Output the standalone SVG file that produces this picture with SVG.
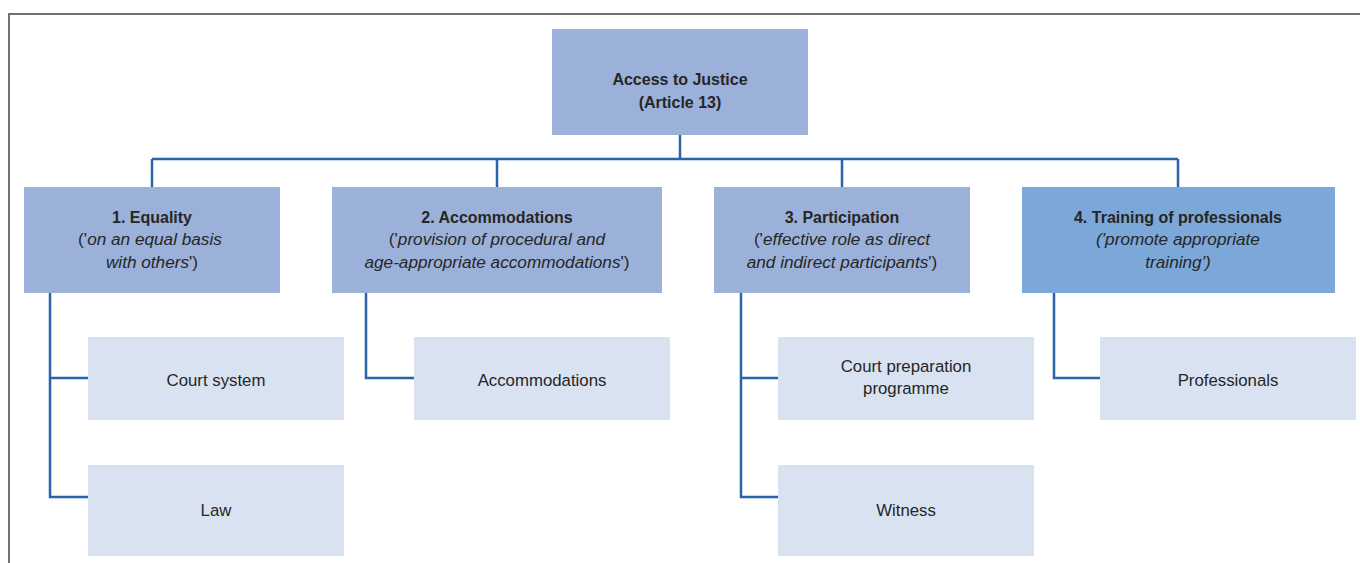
<svg xmlns="http://www.w3.org/2000/svg" width="1360" height="563" viewBox="0 0 1360 563">
<style>
.frame{fill:none;stroke:#707070;stroke-width:2}
.root,.l1{fill:#9bb1da}
.l1b{fill:#7ba7d9}
.l2{fill:#d9e2f1}
.con{fill:none;stroke:#2b63a9;stroke-width:2.5}
text{font-family:"Liberation Sans",Arial,sans-serif;fill:#262626;text-anchor:middle}
.b{font-weight:bold;font-size:16px}
.i{font-size:17.2px}
.i tspan.it{font-style:italic}
.r{font-size:16.8px}
</style>
<rect width="1360" height="563" fill="#fff"/>
<path class="frame" d="M9 563 V14 H1360"/>
<g id="connectors">
<path class="con" d="M680 134 V159 M152 159 H1178 M152 159 V187 M497 159 V187 M842 159 V187 M1178 159 V187"/>
<path class="con" d="M50 292 V497 H88 M50 378 H88"/>
<path class="con" d="M366 292 V378 H414"/>
<path class="con" d="M741 292 V497 H778 M741 378 H778"/>
<path class="con" d="M1054 292 V378 H1100"/>
</g>
<g id="root">
<rect class="root" x="552" y="29" width="256" height="106"/>
<text class="b" x="680" y="85">Access to Justice</text>
<text class="b" x="680" y="108">(Article 13)</text>
</g>
<g id="equality">
<rect class="l1" x="24" y="187" width="256" height="106"/>
<text class="b" x="152" y="223">1. Equality</text>
<text class="i" x="150" y="245">('<tspan class="it">on an equal basis</tspan></text>
<text class="i" x="152" y="268"><tspan class="it">with others</tspan>')</text>
</g>
<g id="accommodations">
<rect class="l1" x="332" y="187" width="330" height="106"/>
<text class="b" x="497" y="223">2. Accommodations</text>
<text class="i" x="497" y="245">('<tspan class="it">provision of procedural and</tspan></text>
<text class="i" x="497" y="268"><tspan class="it">age-appropriate accommodations</tspan>')</text>
</g>
<g id="participation">
<rect class="l1" x="714" y="187" width="256" height="106"/>
<text class="b" x="842" y="223">3. Participation</text>
<text class="i" x="842" y="245">('<tspan class="it">effective role as direct</tspan></text>
<text class="i" x="842" y="268"><tspan class="it">and indirect participants</tspan>')</text>
</g>
<g id="training">
<rect class="l1b" x="1022" y="187" width="313" height="106"/>
<text class="b" x="1178" y="223">4. Training of professionals</text>
<text class="i" x="1178" y="245"><tspan class="it">('promote appropriate</tspan></text>
<text class="i" x="1178" y="268"><tspan class="it">training')</tspan></text>
</g>
<g id="court-system">
<rect class="l2" x="88" y="337" width="256" height="83"/>
<text class="r" x="216" y="386">Court system</text>
</g>
<g id="law">
<rect class="l2" x="88" y="465" width="256" height="91"/>
<text class="r" x="216" y="516">Law</text>
</g>
<g id="accommodations-child">
<rect class="l2" x="414" y="337" width="256" height="83"/>
<text class="r" x="542" y="386">Accommodations</text>
</g>
<g id="court-preparation">
<rect class="l2" x="778" y="337" width="256" height="83"/>
<text class="r" x="906" y="372">Court preparation</text>
<text class="r" x="906" y="394">programme</text>
</g>
<g id="witness">
<rect class="l2" x="778" y="465" width="256" height="91"/>
<text class="r" x="906" y="516">Witness</text>
</g>
<g id="professionals">
<rect class="l2" x="1100" y="337" width="256" height="83"/>
<text class="r" x="1228" y="386">Professionals</text>
</g>
</svg>
